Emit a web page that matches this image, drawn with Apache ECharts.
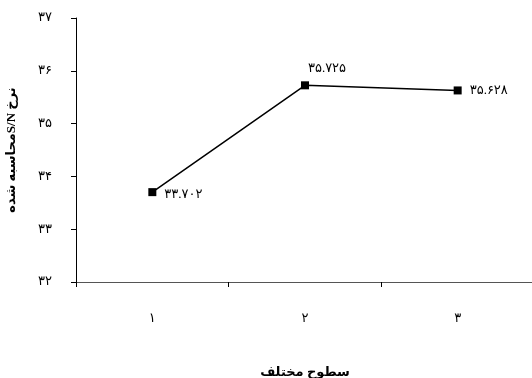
<!DOCTYPE html>
<html><head><meta charset="utf-8">
<script src="https://cdn.jsdelivr.net/npm/echarts@6/dist/echarts.min.js"></script>
<style>html,body{margin:0;padding:0;background:#fff}#c{width:532px;height:378px}</style>
</head><body><div id="c"></div>
<script>
const categories = ['۱', '۲', '۳'];
const values = [33.702, 35.725, 35.628];
const yMin = 32, yMax = 37, yInterval = 1;
const xTitle = 'سطوح مختلف';
const yTitle = 'نرخ S/Nمحاسبه شده';

const fa = s => String(s).replace(/[0-9]/g, d => '۰۱۲۳۴۵۶۷۸۹'[+d]);
const rtl = s => '\u202B' + s + '\u202C';
const font = "'Liberation Serif','DejaVu Sans',serif";
const labelPos = [
  {position: 'right', distance: 8, offset: [0, 2]},
  {position: 'top', distance: 6, offset: [22, 0]},
  {position: 'right', distance: 8, offset: [0, 0]}
];
const chart = echarts.init(document.getElementById('c'));
chart.setOption({
  animation: false,
  grid: {left: 76, top: 18, width: 458, bottom: 96, outerBoundsMode: 'none', containLabel: false},
  xAxis: {
    type: 'category', data: categories,
    axisLine: {lineStyle: {color: '#555', width: 1}},
    axisTick: {show: true, alignWithLabel: false, length: 5, lineStyle: {color: '#000'}},
    axisLabel: {color: '#000', fontSize: 13, fontFamily: font, margin: 30},
    name: xTitle, nameLocation: 'middle', nameGap: 84,
    nameTextStyle: {color: '#000', fontSize: 13, fontWeight: 'bold', fontFamily: font}
  },
  yAxis: {
    type: 'value', min: yMin, max: yMax, interval: yInterval,
    axisLine: {show: true, lineStyle: {color: '#000', width: 1}},
    axisTick: {show: true, length: 5, lineStyle: {color: '#000'}},
    splitLine: {show: false},
    axisLabel: {color: '#000', fontSize: 13, fontFamily: font, margin: 24, formatter: v => fa(v)},
    name: rtl(yTitle), nameLocation: 'middle', nameGap: 58, nameRotate: 90,
    nameTextStyle: {color: '#000', fontSize: 13, fontWeight: 'bold', fontFamily: font}
  },
  series: [{
    type: 'line',
    data: values.map((v, i) => ({value: v, label: labelPos[i]})),
    symbol: 'rect', symbolSize: 8,
    itemStyle: {color: '#000'},
    lineStyle: {color: '#000', width: 1.5},
    label: {show: true, color: '#000', fontSize: 13, fontFamily: font,
      formatter: p => fa(p.value.toFixed(3))}
  }]
});
</script></body></html>
